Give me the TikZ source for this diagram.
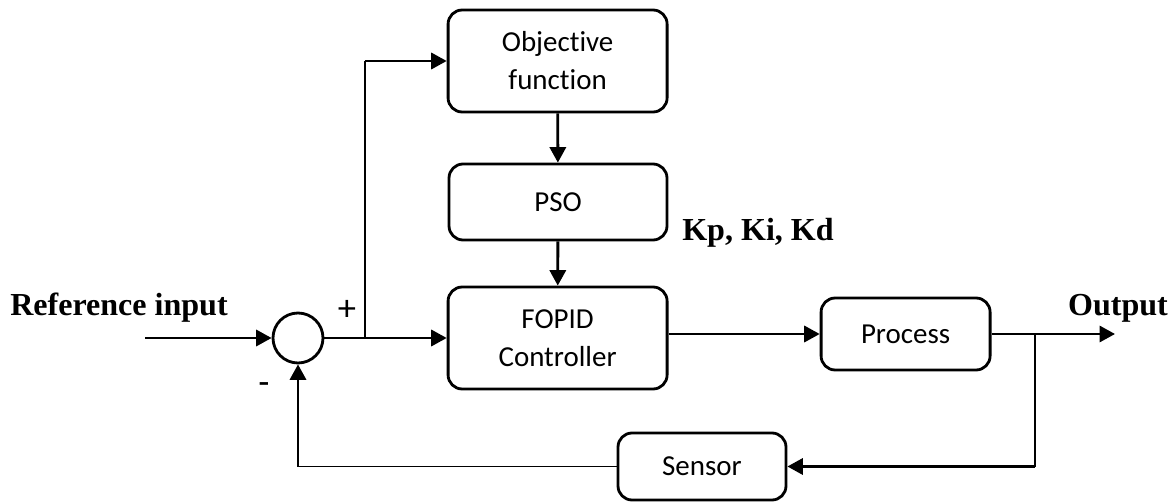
\documentclass[tikz,border=0pt]{standalone}
\usepackage{fontspec}
\setmainfont{Liberation Serif}
\newfontfamily\boxfont[Ligatures=NoCommon]{Carlito}
\usetikzlibrary{arrows.meta}
\tikzset{>={Triangle[length=11pt,width=11.5pt]},
  block/.style={draw,line width=2pt,rounded corners=10pt,align=center,inner sep=0pt,
    font=\boxfont\fontsize{20.6}{27}\selectfont},
  lbl/.style={font=\bfseries\fontsize{22.8}{27}\selectfont},
  thickline/.style={line width=2pt},
  thinline/.style={line width=1pt}}

\begin{document}
\begin{tikzpicture}[thickline]
\useasboundingbox (0,0) rectangle (29.3,12.55);
\node[block,minimum width=5.475cm,minimum height=2.55cm] (1) at (13.94,11.025) {Objective\\function};
\node[block,minimum width=5.45cm,minimum height=1.9cm] (2) at (13.95,7.5) {PSO};
\node[block,minimum width=5.475cm,minimum height=2.55cm] (3) at (13.94,4.1) {FOPID\\Controller};
\node[block,minimum width=4.225cm,minimum height=1.8cm] (4) at (22.64,4.2) {Process};
\node[block,minimum width=4.2cm,minimum height=1.675cm] (5) at (17.55,0.8875) {Sensor};
\node[draw,circle,minimum size=1.25cm,inner sep=0pt] (6) at (7.45,4.1) {};

\node[lbl] (7) at (2.975,4.85) {Reference input};
\node[lbl] (8) at (27.95,4.85) {Output};
\node[lbl] (9) at (18.95,6.725) {Kp, Ki, Kd};
\node[font=\boxfont\fontsize{26}{27}\selectfont] (10) at (8.675,4.8) {+};
\node[lbl] (11) at (6.6,2.875) {-};

\coordinate (in) at (3.625,4.1);
\coordinate (out) at (27.875,4.2);
\coordinate (b1) at (9.125,4.1);
\coordinate (b2) at (25.875,4.2);

\draw[->] (in) to (6);
\draw[->] (6) to (3);
\draw[thinline] (b1) to (b1 |- 1.west);
\draw[->] (b1 |- 1.west) to (1.west);
\draw[->] (1) to (2);
\draw[->] (2) to (3);
\draw[->] (3.east |- 4.west) to (4.west);
\draw[->] (4) to (out);
\draw[line width=1.4pt] (b2) to (b2 |- 5.east);
\draw[->] (b2 |- 5.east) to (5.east);
\draw[thinline] (5.west) to (6.south |- 5.west);
\draw[->] (6.south |- 5.west) to (6.south);
\end{tikzpicture}
\end{document}
